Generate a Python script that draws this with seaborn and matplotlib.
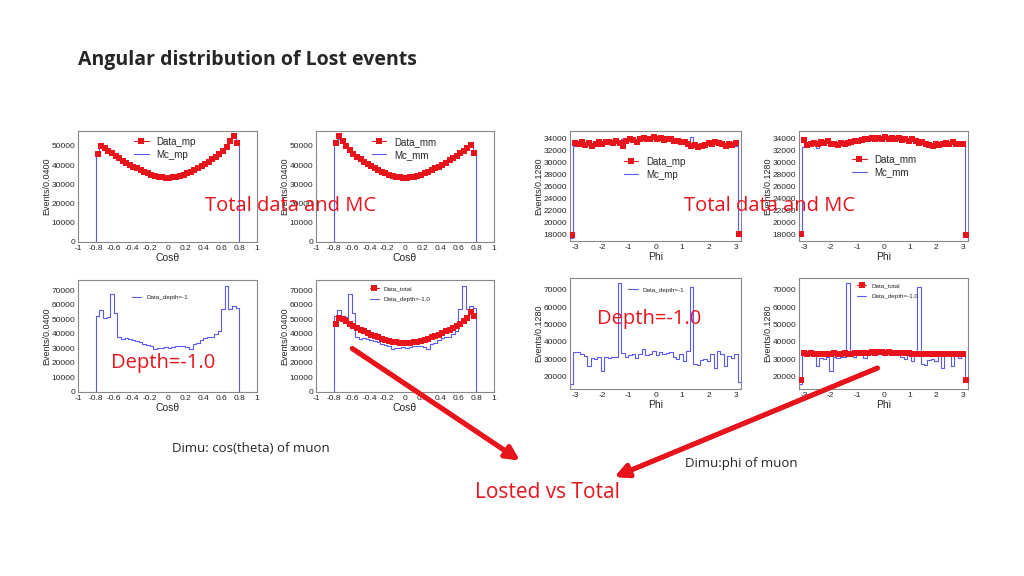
import numpy as np
import pandas as pd
import matplotlib.pyplot as plt
import seaborn as sns

# cos(theta) histograms, 40 bins from -0.8 to 0.8
cos_data_mp = [46000, 50200, 49000, 47600, 46200, 44900, 43600, 42400, 41300, 40200,
               39200, 38300, 37400, 36600, 35800, 35100, 34500, 34000, 33700, 33500,
               33500, 33700, 34000, 34500, 35100, 35800, 36600, 37500, 38400, 39400,
               40500, 41700, 43000, 44400, 45900, 47500, 49300, 52700, 55000, 51500]
cos_mc_mp = [46500, 51500, 49500, 48000, 46500, 45000, 43500, 42300, 41200, 40000,
             39000, 38200, 37300, 36400, 35600, 35000, 34300, 33800, 33500, 33400,
             33400, 33600, 33900, 34300, 34900, 35600, 36400, 37300, 38200, 39200,
             40300, 41500, 42800, 44200, 45700, 47300, 49000, 52000, 54000, 51000]
cos_data_mm = [51500, 55000, 52800, 49800, 47800, 46000, 44500, 43100, 41800, 40600,
               39500, 38500, 37500, 36700, 35900, 35100, 34500, 34000, 33600, 33500,
               33500, 33700, 34000, 34500, 35100, 35800, 36600, 37400, 38300, 39300,
               40300, 41300, 42500, 43700, 44900, 46200, 47600, 49000, 50300, 46500]
cos_mc_mm = [51000, 53500, 52000, 49500, 47500, 45800, 44300, 43000, 41700, 40500,
             39400, 38400, 37400, 36500, 35700, 35000, 34400, 33900, 33500, 33400,
             33400, 33600, 33900, 34400, 35000, 35700, 36500, 37300, 38200, 39200,
             40200, 41200, 42400, 43600, 44800, 46100, 47500, 49000, 50800, 47500]
cos_depth = [52000, 56500, 51000, 51500, 67000, 54000, 38000, 36500, 37000, 36500,
             35500, 35000, 34000, 33000, 32000, 31500, 29500, 30500, 30000, 31000,
             30500, 31000, 31500, 31500, 31500, 31000, 29500, 33000, 33500, 35500,
             37000, 37500, 37500, 40000, 42000, 57000, 73000, 57000, 59000, 58000]
cos_data_total = [47000, 50500, 49800, 48500, 47000, 45500, 44100, 42800, 41600, 40500,
                  39400, 38400, 37500, 36600, 35800, 35100, 34500, 34000, 33700, 33500,
                  33500, 33700, 34000, 34500, 35100, 35800, 36600, 37500, 38400, 39400,
                  40500, 41600, 42800, 44100, 45500, 47000, 48500, 50500, 55000, 52500]

# phi histograms, 50 bins from -3.2 to 3.2
phi_data_mp = [18000, 33200, 33000, 33300, 32900, 33200, 32800, 33100, 33300, 33000,
               33400, 33300, 33200, 33500, 33200, 32700, 33600, 33800, 33700, 33400,
               33900, 34000, 33800, 33900, 34200, 33800, 34100, 33700, 33900, 33800,
               33600, 33500, 33400, 33300, 33000, 32700, 32900, 32600, 32700, 32900,
               33200, 33100, 33300, 33200, 33000, 32800, 33100, 32900, 33200, 18200]
phi_mc_mp = [17500, 32800, 33000, 33200, 33100, 33000, 32900, 33200, 33100, 33300,
             33200, 33400, 33300, 33400, 33300, 33900, 33800, 33500, 33600, 33700,
             34100, 33900, 34000, 33800, 34000, 34100, 33900, 33800, 33900, 33600,
             33700, 33400, 33200, 33100, 33000, 34200, 33000, 32800, 32900, 33100,
             33000, 33200, 33100, 33000, 32900, 33000, 32800, 33000, 32700, 17800]
phi_data_mm = [18100, 33700, 32900, 33100, 33200, 33000, 33300, 33200, 33500, 33100,
               33000, 32900, 33200, 33000, 33200, 33300, 33600, 33500, 33700, 33900,
               33800, 34000, 33800, 34100, 33900, 34200, 33800, 34000, 33900, 34100,
               33700, 33900, 33600, 33800, 33500, 33200, 33300, 33100, 32900, 32700,
               33000, 32900, 33100, 33200, 33000, 33300, 33100, 33000, 33100, 18000]
phi_mc_mm = [17800, 32500, 33000, 33200, 33000, 32400, 33100, 33200, 33300, 33000,
             33100, 33000, 33300, 33200, 33600, 33500, 33400, 33700, 33600, 33800,
             33900, 33800, 34000, 34100, 34000, 34200, 34100, 33800, 33700, 33900,
             33600, 33700, 33500, 33700, 33400, 33300, 33200, 33100, 33000, 32800,
             32900, 33000, 33100, 33000, 32900, 33200, 33000, 33100, 32800, 17900]
phi_depth = [16000, 34500, 34000, 33000, 32000, 26000, 31000, 30000, 31500, 23000,
             31500, 31000, 31500, 31500, 74000, 33500, 31500, 32500, 33000, 30500,
             33000, 36000, 32500, 33000, 35000, 32500, 34000, 33000, 33500, 34000,
             31500, 30000, 33000, 29000, 35000, 71500, 27500, 27000, 29500, 30000,
             29000, 33000, 25000, 35000, 33000, 26000, 32000, 30500, 33000, 17000]
phi_data_total = [18000, 33500, 33300, 33400, 33200, 33300, 33100, 33200, 33300, 33200,
                  33400, 33300, 33200, 33400, 33300, 33200, 33500, 33700, 33800, 33700,
                  33900, 34000, 33900, 34000, 34100, 33900, 34000, 33800, 33700, 33600,
                  33600, 33500, 33400, 33300, 33200, 33100, 33000, 32900, 33000, 33100,
                  33200, 33100, 33000, 33100, 33000, 32900, 33100, 33000, 33200, 18000]

sns.set_style("white")
plt.rcParams["font.family"] = "Liberation Sans"
W, H = 1024, 576
fig = plt.figure(figsize=(W / 100, H / 100), dpi=100)

RED = "#e8141c"
BLUE = "#5a5af0"


def make_ax(x0, y0, x1, y1):
    return fig.add_axes([x0 / W, 1 - y1 / H, (x1 - x0) / W, (y1 - y0) / H])


def panel(ax, lo, hi, line_vals, line_lab, pts=None, pts_lab=None,
          xlim=None, ylim=None, xticks=None, yticks=None, xlabel="", ylabel="",
          small_leg=False, leg_loc=(0.3, 0.97)):
    n = len(line_vals)
    step = (hi - lo) / n
    # one empty bin on each side so the outline drops to zero like ROOT does
    edges = np.linspace(lo - step, hi + step, n + 3)
    df = pd.DataFrame({"x": (edges[:-1] + edges[1:]) / 2, "w": [0] + list(line_vals) + [0]})
    sns.histplot(data=df, x="x", weights="w", bins=list(edges), element="step", fill=False,
                 color=BLUE, linewidth=0.8, ax=ax)
    h_line = plt.Line2D([], [], color=BLUE, lw=0.8)
    handles, labels = [h_line], [line_lab]
    if pts is not None:
        e2 = np.linspace(lo, hi, len(pts) + 1)
        dp = pd.DataFrame({"x": (e2[:-1] + e2[1:]) / 2, "y": pts})
        sns.scatterplot(data=dp, x="x", y="y", color=RED, marker="s", s=18,
                        linewidth=0, ax=ax, zorder=3)
        h_pts = plt.Line2D([], [], color=RED, lw=0.8, marker="s", markersize=4, markeredgewidth=0)
        handles, labels = [h_pts, h_line], [pts_lab, line_lab]
    ax.set_xlim(*xlim)
    ax.set_ylim(*ylim)
    ax.set_xticks(xticks)
    ax.set_xticklabels([f"{t:g}" for t in xticks])
    ax.set_yticks(yticks)
    ax.minorticks_on()
    ax.tick_params(which="both", direction="in", top=False, right=False, labelsize=6, pad=2)
    ax.tick_params(which="major", length=4)
    ax.tick_params(which="minor", length=2)
    ax.set_xlabel(xlabel, fontsize=7.5, labelpad=1)
    ax.set_ylabel(ylabel, fontsize=6.5, labelpad=0)
    for s in ax.spines.values():
        s.set_color("#888888")
        s.set_linewidth(0.8)
    ax.legend(handles, labels, loc="upper left", bbox_to_anchor=leg_loc, frameon=False,
              fontsize=4.5 if small_leg else 7, handlelength=1.5,
              borderpad=0.1, labelspacing=0.3 if not small_leg else 0.9)


cos_ticks = [-1, -0.8, -0.6, -0.4, -0.2, 0, 0.2, 0.4, 0.6, 0.8, 1]
phi_ticks = [-3, -2, -1, 0, 1, 2, 3]
ycos = "Events/0.0400"
yphi = "Events/0.1280"

a1 = make_ax(78, 131, 257, 242)
panel(a1, -0.8, 0.8, cos_mc_mp, "Mc_mp", cos_data_mp, "Data_mp", (-1, 1), (0, 57800),
      cos_ticks, [0, 10000, 20000, 30000, 40000, 50000], "Cos\u03b8", ycos, leg_loc=(0.28, 1.0))
a2 = make_ax(316, 131, 494, 242)
panel(a2, -0.8, 0.8, cos_mc_mm, "Mc_mm", cos_data_mm, "Data_mm", (-1, 1), (0, 57800),
      cos_ticks, [0, 10000, 20000, 30000, 40000, 50000], "Cos\u03b8", ycos, leg_loc=(0.28, 1.0))
a3 = make_ax(78, 280, 257, 392)
panel(a3, -0.8, 0.8, cos_depth, "Data_depth=-1", None, None, (-1, 1), (0, 76900),
      cos_ticks, [0, 10000, 20000, 30000, 40000, 50000, 60000, 70000], "Cos\u03b8", ycos,
      small_leg=True, leg_loc=(0.28, 0.9))
a4 = make_ax(316, 280, 494, 392)
panel(a4, -0.8, 0.8, cos_depth, "Data_depth=-1.0", cos_data_total, "Data_total", (-1, 1), (0, 76900),
      cos_ticks, [0, 10000, 20000, 30000, 40000, 50000, 60000, 70000], "Cos\u03b8", ycos,
      small_leg=True, leg_loc=(0.28, 0.98))

a5 = make_ax(570, 131, 741, 241)
panel(a5, -3.2, 3.2, phi_mc_mp, "Mc_mp", phi_data_mp, "Data_mp", (-3.2, 3.2), (17000, 35200),
      phi_ticks, list(range(18000, 34001, 2000)), "Phi", yphi, leg_loc=(0.28, 0.82))
a6 = make_ax(799, 131, 968, 241)
panel(a6, -3.2, 3.2, phi_mc_mm, "Mc_mm", phi_data_mm, "Data_mm", (-3.2, 3.2), (17000, 35200),
      phi_ticks, list(range(18000, 34001, 2000)), "Phi", yphi, leg_loc=(0.28, 0.84))
a7 = make_ax(570, 278, 741, 389)
panel(a7, -3.2, 3.2, phi_depth, "Data_depth=-1", None, None, (-3.2, 3.2), (12900, 76900),
      phi_ticks, [20000, 30000, 40000, 50000, 60000, 70000], "Phi", yphi,
      small_leg=True, leg_loc=(0.32, 0.95))
a8 = make_ax(799, 278, 968, 389)
panel(a8, -3.2, 3.2, phi_depth, "Data_depth=-1.0", phi_data_total, "Data_total", (-3.2, 3.2), (12900, 76900),
      phi_ticks, [20000, 30000, 40000, 50000, 60000, 70000], "Phi", yphi,
      small_leg=True, leg_loc=(0.32, 0.99))

# slide text
fig.text(78 / W, 1 - 60 / H, "Angular distribution of Lost events", fontsize=14,
         fontweight="bold", family="Open Sans", va="center")
red_font = dict(color=RED, family="Open Sans", fontsize=14.5, va="center")
fig.text(205 / W, 1 - 206 / H, "Total data and MC", **red_font)
fig.text(684 / W, 1 - 206 / H, "Total data and MC", **red_font)
fig.text(111 / W, 1 - 363 / H, "Depth=-1.0", **red_font)
fig.text(597 / W, 1 - 319 / H, "Depth=-1.0", **red_font)
fig.text(475 / W, 1 - 493 / H, "Losted vs Total", **dict(red_font, fontsize=15))
fig.text(172 / W, 1 - 448 / H, "Dimu: cos(theta) of muon", fontsize=9.5, family="Open Sans", va="center")
fig.text(685 / W, 1 - 463 / H, "Dimu:phi of muon", fontsize=9.5, family="Open Sans", va="center")

arrow = dict(arrowstyle="-|>,head_length=0.8,head_width=0.4", color=RED, lw=3.5)
fig.add_artist(plt.annotate("", xy=(522 / W, 1 - 462 / H), xytext=(350 / W, 1 - 347 / H),
                            xycoords="figure fraction", arrowprops=arrow))
fig.add_artist(plt.annotate("", xy=(612 / W, 1 - 478 / H), xytext=(880 / W, 1 - 367 / H),
                            xycoords="figure fraction", arrowprops=arrow))

fig.savefig("out.png", dpi=100)
